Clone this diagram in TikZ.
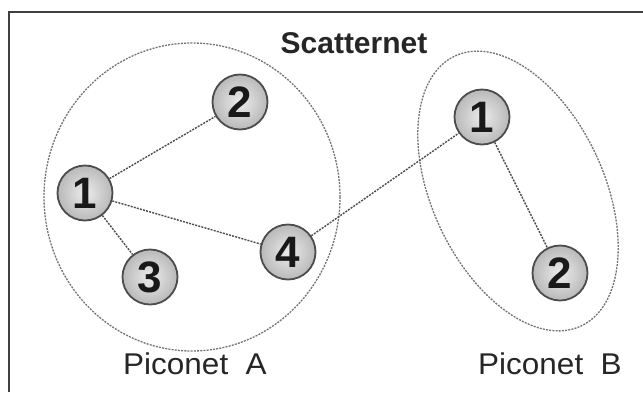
\documentclass[tikz,border=0pt]{standalone}
\usepackage{fontspec}
\setmainfont{Liberation Sans}
\begin{document}
\begin{tikzpicture}[x=1pt,y=-1pt,
  netnode/.style={circle, minimum size=55pt, inner sep=0pt, draw=black!70, line width=1.8pt,
    shade, shading=radial, inner color=gray!15, outer color=gray!55,
    text=black!90, font=\fontsize{44}{44}\selectfont\bfseries},
  link/.style={draw=black!70, line width=1.4pt, dash pattern=on 2pt off 1.2pt},
  grp/.style={draw=black!55, line width=1.3pt, dash pattern=on 2pt off 1.2pt},
  title/.style={font=\fontsize{30}{30}\selectfont\bfseries, text=black!85},
  lab/.style={font=\fontsize{30}{30}\selectfont, text=black!85}]
\useasboundingbox (0,0) rectangle (643,392);
\fill[white] (0,0) rectangle (643,392);
% frame
\draw[line width=1.5pt, black!75] (9,392) -- (9,12) -- (643,12);
% piconet groups
\draw[grp] (192,197) ellipse [x radius=148pt, y radius=154pt];
\draw[grp, rotate around={25:(518,191)}] (518,191) ellipse [x radius=86pt, y radius=149pt];
% nodes
\node[netnode] (a1) at (85,193) {1};
\node[netnode] (a2) at (240,102) {2};
\node[netnode] (a3) at (150,277) {3};
\node[netnode] (a4) at (288,252) {4};
\node[netnode] (b1) at (482,117) {1};
\node[netnode] (b2) at (560,273) {2};
% links
\draw[link] (a1) -- (a2);
\draw[link] (a1) -- (a3);
\draw[link] (a1) -- (a4);
\draw[link] (a4) -- (b1);
\draw[link] (b1) -- (b2);
% labels
\node[title] (t) at (354,43) {Scatternet};
\node[lab] (pa) at (195,364) {\scalebox{1.05}[1]{Piconet\ \ A}};
\node[lab] (pb) at (550,364) {\scalebox{1.05}[1]{Piconet\ \ B}};
\end{tikzpicture}
\end{document}
